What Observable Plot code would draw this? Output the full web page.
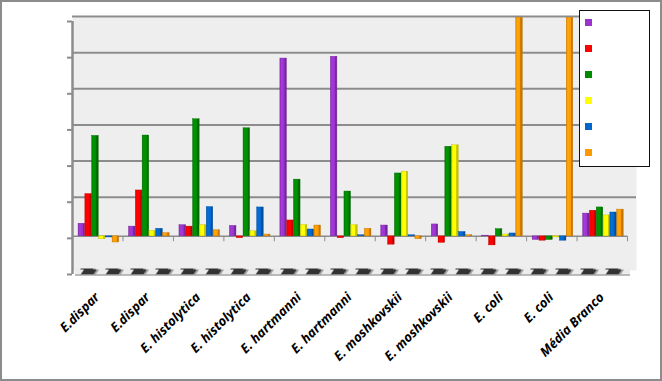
<!DOCTYPE html>
<html>
<head>
<meta charset="utf-8">
<script src="https://cdn.jsdelivr.net/npm/d3@7"></script>
<script src="https://cdn.jsdelivr.net/npm/@observablehq/plot@0.6"></script>
<style>
  html, body { margin: 0; padding: 0; background: #fff; }
  #wrap { position: relative; width: 662px; height: 381px; overflow: hidden; font-family: Lato, "Open Sans", sans-serif; }
  #wrap svg { position: absolute; left: 0; top: 0; }
  #border { position: absolute; left: 0; top: 0; width: 662px; height: 381px; box-sizing: border-box; border: 2px solid #8c8c8c; pointer-events: none; }
  #legend { position: absolute; left: 579px; top: 10px; width: 71px; height: 157px; box-sizing: border-box; border: 1.5px solid #111; background: #fff; }
  #legend .sw { position: absolute; left: 5px; width: 7px; height: 7px; }
</style>
</head>
<body>
<div id="wrap"><div id="legend"></div><div id="border"></div></div>
<script>
const categories = ["E.dispar","E.dispar","E. histolytica","E. histolytica","E. hartmanni","E. hartmanni","E. moshkovskii","E. moshkovskii","E. coli","E. coli","Média Branco"];
const seriesNames = ["Série 1","Série 2","Série 3","Série 4","Série 5","Série 6"];
const seriesColors = ["#9933cc","#ff0000","#008a00","#ffff00","#0066cc","#ff9900"];
const purple = [0.35, 0.27, 0.31, 0.29, 4.92, 4.97, 0.30, 0.33, 0.02, -0.10, 0.63];
const red    = [1.17, 1.27, 0.27, -0.05, 0.44, -0.05, -0.23, -0.18, -0.25, -0.12, 0.71];
const green  = [2.78, 2.79, 3.24, 2.99, 1.57, 1.24, 1.74, 2.48, 0.20, -0.10, 0.80];
const yellow = [-0.08, 0.15, 0.31, 0.14, 0.31, 0.31, 1.79, 2.52, 0.05, -0.03, 0.58];
const blue   = [-0.03, 0.21, 0.81, 0.80, 0.19, 0.03, 0.03, 0.12, 0.08, -0.12, 0.66];
const orange = [-0.17, 0.09, 0.17, 0.05, 0.30, 0.21, -0.08, 0.03, 6.05, 6.05, 0.74];
const yTicks = [-1, 0, 1, 2, 3, 4, 5, 6];

const seriesValues = [purple, red, green, yellow, blue, orange];
const rows = [];
seriesValues.forEach((vals, s) => vals.forEach((v, i) => rows.push({i, s, value: v})));

const barMarks = seriesValues.map((_, s) => Plot.rectY(rows.filter(d => d.s === s), {
  x1: d => d.i + 0.12 + d.s * 0.135,
  x2: d => d.i + 0.12 + d.s * 0.135 + 0.13,
  y1: 0,
  y2: "value",
  dy: -2,
  fill: `url(#grad${s})`,
  stroke: d3.color(seriesColors[s]).darker(0.8).formatHex(),
  strokeWidth: 0.4
}));

const chart = Plot.plot({
  width: 662,
  height: 381,
  marginLeft: 72,
  marginRight: 26,
  marginTop: 21,
  marginBottom: 107,
  x: {type: "linear", domain: [0, categories.length], insetRight: 9, axis: null},
  y: {domain: [-1, 6], label: null},
  marks: [
    Plot.frame({fill: "#eeeeee", stroke: null, dy: -4}),
    Plot.ruleY(yTicks.filter(t => t > 0), {dy: -5, stroke: "#8c8c8c", strokeWidth: 2}),
    Plot.ruleY([-1], {x1: 0, x2: categories.length, dy: -3, dx: 3, stroke: "url(#floorPat)", strokeWidth: 6}),
    Plot.ruleY([-1], {x1: 0, x2: categories.length, dy: 0.5, dx: 3, stroke: "#7a7a7a", strokeWidth: 1}),
    Plot.ruleY([0], {x1: 0, x2: categories.length, dy: -2, stroke: "#8c8c8c", strokeWidth: 1.5}),
    Plot.ruleX(d3.range(1, categories.length + 1), {y1: 0, y2: -0.15, dy: -2, stroke: "#8c8c8c"}),
    Plot.ruleX([0], {y1: -1, y2: 6, stroke: "#8c8c8c", strokeWidth: 2.5}),
    Plot.axisY({ticks: yTicks, tickSize: 5, tickFormat: () => "", label: null, stroke: "#8c8c8c", strokeWidth: 2}),
    ...barMarks,
    Plot.text(categories.map((c, i) => ({c, i})), {
      x: d => d.i + 0.5,
      text: "c",
      frameAnchor: "bottom",
      dy: 17,
      dx: -4,
      rotate: -45,
      textAnchor: "end",
      lineAnchor: "top",
      fontSize: 13,
      fontWeight: "bold",
      fontStyle: "italic",
      fill: "#000"
    })
  ]
});

// gradient defs for a 3D-looking bar face, and a striped floor pattern
const defs = d3.select(chart).insert("defs", ":first-child");
seriesColors.forEach((c, s) => {
  const g = defs.append("linearGradient").attr("id", `grad${s}`).attr("x1", "0").attr("x2", "1").attr("y1", "0").attr("y2", "0");
  const base = d3.color(c);
  g.append("stop").attr("offset", "0%").attr("stop-color", base.darker(0.3).formatHex());
  g.append("stop").attr("offset", "25%").attr("stop-color", base.brighter(0.25).formatHex());
  g.append("stop").attr("offset", "68%").attr("stop-color", base.formatHex());
  g.append("stop").attr("offset", "72%").attr("stop-color", base.darker(0.6).formatHex());
  g.append("stop").attr("offset", "100%").attr("stop-color", base.darker(0.9).formatHex());
});
const pat = defs.append("pattern").attr("id", "floorPat").attr("patternUnits", "userSpaceOnUse")
  .attr("width", 25).attr("height", 6).attr("y", 266);
pat.append("rect").attr("width", 25).attr("height", 6).attr("fill", "#ececec");
pat.append("polygon").attr("points", "2,6 15,6 19,0 6,0").attr("fill", "#333");
pat.append("polygon").attr("points", "15,6 17,6 21,0 19,0").attr("fill", "#999");

document.getElementById("wrap").insertBefore(chart, document.getElementById("legend"));

const legend = document.getElementById("legend");
seriesColors.forEach((c, s) => {
  const sw = document.createElement("div");
  sw.className = "sw";
  sw.style.top = (8 + s * 26) + "px";
  sw.style.background = c;
  sw.title = seriesNames[s];
  legend.appendChild(sw);
});
</script>
</body>
</html>
